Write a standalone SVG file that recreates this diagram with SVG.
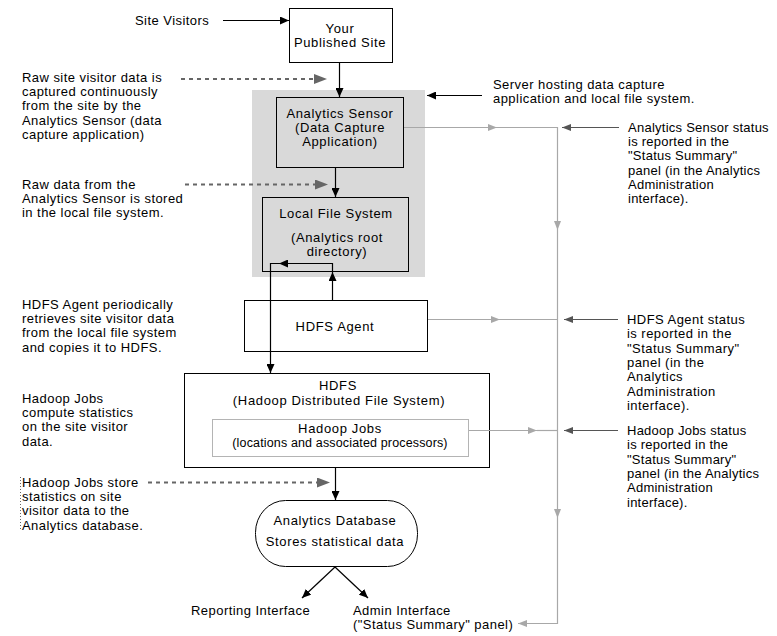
<svg xmlns="http://www.w3.org/2000/svg" width="777" height="636" viewBox="0 0 777 636">
<style>
text{font-family:"Liberation Sans",Arial,sans-serif;font-size:13px;fill:#000;letter-spacing:0.45px}
.c{text-anchor:middle;letter-spacing:0.65px}
.sm{font-size:12.5px;letter-spacing:0.15px}
.tight{letter-spacing:0.25px}
.box{fill:#fff;stroke:#000;stroke-width:1}
.gbox{fill:#d9d9d9;stroke:#000;stroke-width:1}
.blk{fill:none;stroke:#000;stroke-width:1.2}
.gry{fill:none;stroke:#a8a8a8;stroke-width:1.2}
.dk{fill:none;stroke:#555;stroke-width:1.2}
.dash{fill:none;stroke:#666;stroke-width:2;stroke-dasharray:4 4}
</style>
<defs>
<marker id="ab" markerUnits="userSpaceOnUse" markerWidth="10" markerHeight="8" refX="9" refY="4" orient="auto"><path d="M0,0L9,4L0,8z" fill="#000"/></marker>
<marker id="ag" markerUnits="userSpaceOnUse" markerWidth="10" markerHeight="8" refX="9" refY="4" orient="auto"><path d="M0,0.5L9,4L0,7.5z" fill="#a8a8a8"/></marker>
<marker id="ad" markerUnits="userSpaceOnUse" markerWidth="10" markerHeight="8" refX="9" refY="4" orient="auto"><path d="M0,0.5L9,4L0,7.5z" fill="#555"/></marker>
<marker id="ah" markerUnits="userSpaceOnUse" markerWidth="14" markerHeight="10" refX="13" refY="5" orient="auto"><path d="M0,0L13,5L0,10z" fill="#666"/></marker>
</defs>
<rect width="777" height="636" fill="#fff"/>

<g id="server">
<rect x="252" y="90" width="173" height="187" fill="#d9d9d9"/>
</g>
<g id="published-site">
<rect class="box" x="289.5" y="8.5" width="103" height="54"/>
<text class="c" x="340" y="33">Your</text>
<text class="c" x="340" y="47">Published Site</text>
</g>
<g id="analytics-sensor">
<rect class="gbox" x="276.5" y="97.5" width="127" height="70"/>
<text class="c" x="340" y="118">Analytics Sensor</text>
<text class="c" x="340" y="132">(Data Capture</text>
<text class="c" x="340" y="146">Application)</text>
</g>
<g id="local-file-system">
<rect class="gbox" x="262.5" y="197.5" width="146" height="74"/>
<text class="c" x="336" y="218">Local File System</text>
<text class="c" x="337" y="242">(Analytics root</text>
<text class="c" x="337" y="256">directory)</text>
</g>
<g id="hdfs-agent">
<rect class="box" x="244.5" y="300.5" width="183" height="51"/>
<text class="c" x="335" y="331">HDFS  Agent</text>
</g>
<g id="hdfs">
<rect class="box" x="184.5" y="373.5" width="305" height="94"/>
<text class="c" x="338" y="390">HDFS</text>
<text class="c" x="339" y="405">(Hadoop Distributed File System)</text>
</g>
<g id="hadoop-jobs">
<rect x="212.5" y="419.5" width="256" height="37" fill="#fff" stroke="#b4b4b4"/>
<text class="c" x="340" y="433">Hadoop Jobs</text>
<text class="c sm" x="340" y="447">(locations and associated processors)</text>
</g>
<g id="analytics-database">
<rect class="box" x="255.5" y="500.5" width="162" height="66" rx="30" ry="32"/>
<text class="c" x="335" y="525">Analytics Database</text>
<text class="c" x="335" y="546">Stores statistical data</text>
</g>
<g id="reporting-interface">
<text x="191" y="615">Reporting Interface</text>
</g>
<g id="admin-interface">
<text x="353" y="615">Admin Interface</text>
<text x="353" y="629">("Status Summary" panel)</text>
</g>

<g id="notes">
<text x="135" y="25">Site Visitors</text>
<text x="22" y="82">Raw site visitor data is<tspan x="22" dy="14.2">captured continuously</tspan><tspan x="22" dy="14.2">from the site by the</tspan><tspan x="22" dy="14.2">Analytics Sensor (data</tspan><tspan x="22" dy="14.2">capture application)</tspan></text>
<text x="22" y="189">Raw data from the<tspan x="22" dy="14.2">Analytics Sensor is stored</tspan><tspan x="22" dy="14.2">in the local file system.</tspan></text>
<text x="22" y="309">HDFS Agent periodically<tspan x="22" dy="14.2">retrieves site visitor data</tspan><tspan x="22" dy="14.2">from the local file system</tspan><tspan x="22" dy="14.2">and copies it to HDFS.</tspan></text>
<text x="22" y="403">Hadoop Jobs<tspan x="22" dy="14.2">compute statistics</tspan><tspan x="22" dy="14.2">on the site visitor</tspan><tspan x="22" dy="14.2">data.</tspan></text>
<text x="22" y="487">Hadoop Jobs store<tspan x="22" dy="14.2">statistics on site</tspan><tspan x="22" dy="14.2">visitor data to the</tspan><tspan x="22" dy="14.2">Analytics database.</tspan></text>
<line x1="20.5" y1="477" x2="20.5" y2="530" stroke="#666" stroke-width="1" stroke-dasharray="1 2"/>
<text x="493" y="89">Server hosting data capture<tspan x="493" dy="14.2">application and local file system.</tspan></text>
<text class="tight" x="628" y="132">Analytics Sensor status<tspan x="628" dy="14.2">is reported in the</tspan><tspan x="628" dy="14.2">"Status Summary"</tspan><tspan x="628" dy="14.2">panel (in the Analytics</tspan><tspan x="628" dy="14.2">Administration</tspan><tspan x="628" dy="14.2">interface).</tspan></text>
<text x="627" y="324">HDFS Agent status<tspan x="627" dy="14.3">is reported in the</tspan><tspan x="627" dy="14.3">"Status Summary"</tspan><tspan x="627" dy="14.3">panel (in the</tspan><tspan x="627" dy="14.3">Analytics</tspan><tspan x="627" dy="14.3">Administration</tspan><tspan x="627" dy="14.3">interface).</tspan></text>
<text class="tight" x="627" y="435">Hadoop Jobs status<tspan x="627" dy="14.3">is reported in the</tspan><tspan x="627" dy="14.3">"Status Summary"</tspan><tspan x="627" dy="14.3">panel (in the Analytics</tspan><tspan x="627" dy="14.3">Administration</tspan><tspan x="627" dy="14.3">interface).</tspan></text>
</g>

<g id="connectors">
<path class="blk" d="M223,20.5H289" marker-end="url(#ab)"/>
<path class="blk" d="M339.5,62V97" marker-end="url(#ab)"/>
<path class="blk" d="M482,95.5H427" marker-end="url(#ab)"/>
<path class="blk" d="M335.5,168V197" marker-end="url(#ab)"/>
<path class="blk" d="M332.5,300V272" marker-end="url(#ab)"/>
<path class="blk" d="M332.5,272V263.5H279" marker-end="url(#ab)"/>
<path class="blk" d="M279,263.5H270.5V373" marker-end="url(#ab)"/>
<path class="blk" d="M335.5,468V500" marker-end="url(#ab)"/>
<path class="blk" d="M335,567L302,598" stroke-width="1" marker-end="url(#ab)"/>
<path class="blk" d="M335,567L368,598" stroke-width="1" marker-end="url(#ab)"/>

<path class="gry" d="M404,127.5H497" marker-end="url(#ag)"/>
<path class="gry" d="M497,127.5H557.5V230" marker-end="url(#ag)"/>
<path class="gry" d="M557.5,230V518" marker-end="url(#ag)"/>
<path class="gry" d="M557.5,518V623.5H518" marker-end="url(#ag)"/>
<path class="gry" d="M428,319.5H500" marker-end="url(#ag)"/>
<path class="gry" d="M500,319.5H557.5"/>
<path class="gry" d="M469,430.5H537" marker-end="url(#ag)"/>
<path class="gry" d="M537,430.5H557.5"/>

<path class="dk" d="M619,127.5H562" marker-end="url(#ad)"/>
<path class="dk" d="M618,319.5H564" marker-end="url(#ad)"/>
<path class="dk" d="M618,430.5H564" marker-end="url(#ad)"/>

<path class="dash" d="M181,79H315"/>
<path class="dash" d="M185,184.5H316"/>
<path class="dash" d="M148,482.5H318"/>
<path d="M311,79H327" stroke="none" fill="none" marker-end="url(#ah)"/>
<path d="M312,184.5H328" stroke="none" fill="none" marker-end="url(#ah)"/>
<path d="M314,482.5H330" stroke="none" fill="none" marker-end="url(#ah)"/>
</g>
</svg>
